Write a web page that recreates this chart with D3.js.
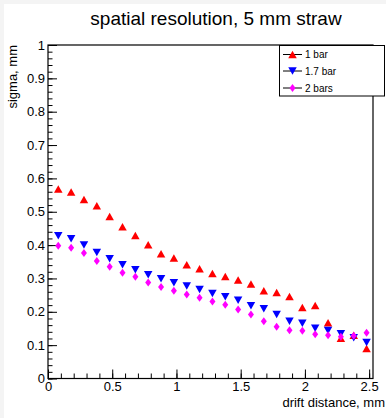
<!DOCTYPE html>
<html>
<head>
<meta charset="utf-8">
<script src="https://cdn.jsdelivr.net/npm/d3@7"></script>
<style>
  html, body { margin: 0; padding: 0; background: #fff; }
  svg { display: block; }
  text { font-family: "Liberation Sans", Arial, Helvetica, sans-serif; fill: #000; }
</style>
</head>
<body>
<svg id="chart" width="386" height="418"></svg>
<script>
// ---- data ----
const title = "spatial resolution, 5 mm straw";
const xLabel = "drift distance, mm";
const yLabel = "sigma, mm";
const driftX = [0.08, 0.18, 0.28, 0.38, 0.48, 0.58, 0.68, 0.78, 0.88, 0.98,
                1.08, 1.18, 1.28, 1.38, 1.48, 1.58, 1.68, 1.78, 1.88, 1.98,
                2.08, 2.18, 2.28, 2.38, 2.48];
const sigma1bar = [0.568, 0.559, 0.537, 0.518, 0.486, 0.455, 0.429, 0.401, 0.374, 0.361,
                   0.341, 0.329, 0.315, 0.306, 0.295, 0.283, 0.263, 0.258, 0.246, 0.213,
                   0.219, 0.167, 0.121, 0.130, 0.090];
const sigma17bar = [0.428, 0.419, 0.400, 0.378, 0.359, 0.341, 0.326, 0.311, 0.299, 0.287,
                    0.277, 0.267, 0.255, 0.245, 0.235, 0.218, 0.209, 0.192, 0.172, 0.166,
                    0.151, 0.144, 0.134, 0.122, 0.108];
const sigma2bars = [0.398, 0.392, 0.376, 0.352, 0.335, 0.317, 0.305, 0.288, 0.274, 0.263,
                    0.252, 0.242, 0.231, 0.221, 0.207, 0.192, 0.172, 0.155, 0.145, 0.143,
                    0.133, 0.130, 0.125, 0.128, 0.137];
const seriesNames = ["1 bar", "1.7 bar", "2 bars"];
const xTickValues = [0, 0.5, 1, 1.5, 2, 2.5];
const yTickValues = [0, 0.1, 0.2, 0.3, 0.4, 0.5, 0.6, 0.7, 0.8, 0.9, 1];

// ---- layout ----
const svg = d3.select("#chart");
const W = 386, H = 418;
const frame = { left: 48, right: 373, top: 45, bottom: 378.5 };

svg.append("rect").attr("width", W).attr("height", H).attr("fill", "#f4f4f4");
svg.append("rect").attr("x", 4).attr("y", 4).attr("width", W - 4).attr("height", H - 4).attr("fill", "#fff");

const x = d3.scaleLinear().domain([0, 2.53]).range([frame.left, frame.right]);
const y = d3.scaleLinear().domain([0, 1]).range([frame.bottom, frame.top]);

// title
svg.append("text").attr("x", 216).attr("y", 25).attr("text-anchor", "middle")
  .style("font-size", "19px").text(title);

// frame
svg.append("rect").attr("x", frame.left).attr("y", frame.top)
  .attr("width", frame.right - frame.left).attr("height", frame.bottom - frame.top)
  .attr("fill", "none").attr("stroke", "#000").attr("stroke-width", 1.2);

// x axis (ticks inside)
const xMinor = d3.range(0, 2.531, 0.1).map(v => +v.toFixed(2));
const gx = svg.append("g").attr("transform", `translate(0,${frame.bottom})`);
gx.call(d3.axisTop(x).tickValues(xMinor).tickSize(5).tickFormat(""))
  .call(g => g.select(".domain").remove())
  .call(g => g.selectAll("line").attr("stroke", "#000"));
const gx2 = svg.append("g").attr("transform", `translate(0,${frame.bottom})`);
gx2.call(d3.axisTop(x).tickValues(xTickValues).tickSize(9).tickFormat(""))
  .call(g => g.select(".domain").remove())
  .call(g => g.selectAll("line").attr("stroke", "#000"));
const gx3 = svg.append("g").attr("transform", `translate(0,${frame.bottom})`);
gx3.call(d3.axisBottom(x).tickValues(xTickValues).tickSize(0).tickPadding(3).tickFormat(d3.format("")))
  .call(g => g.select(".domain").remove())
  .call(g => g.selectAll("text").style("font-size", "13px").attr("fill", "#000").attr("dy", "0.72em"));

// y axis (ticks inside)
const yMinor = d3.range(0, 1.001, 0.02).map(v => +v.toFixed(2));
const gy = svg.append("g").attr("transform", `translate(${frame.left},0)`);
gy.call(d3.axisRight(y).tickValues(yMinor).tickSize(4.5).tickFormat(""))
  .call(g => g.select(".domain").remove())
  .call(g => g.selectAll("line").attr("stroke", "#000"));
const gy2 = svg.append("g").attr("transform", `translate(${frame.left},0)`);
gy2.call(d3.axisRight(y).tickValues(yTickValues).tickSize(9).tickFormat(""))
  .call(g => g.select(".domain").remove())
  .call(g => g.selectAll("line").attr("stroke", "#000"));
const gy3 = svg.append("g").attr("transform", `translate(${frame.left - 1},0)`);
gy3.call(d3.axisLeft(y).tickValues(yTickValues).tickSize(0).tickPadding(2).tickFormat(d3.format("")))
  .call(g => g.select(".domain").remove())
  .call(g => g.selectAll("text").style("font-size", "13px").attr("fill", "#000"));

// axis labels
svg.append("text").attr("x", 385).attr("y", 407).attr("text-anchor", "end")
  .style("font-size", "13px").text(xLabel);
svg.append("text").attr("transform", `translate(17,${frame.top}) rotate(-90)`)
  .attr("text-anchor", "end").style("font-size", "13px").text(yLabel);

// markers
function triUp(w, h) { return `M0,${-h/2}L${w/2},${h/2}L${-w/2},${h/2}Z`; }
function triDown(w, h) { return `M0,${h/2}L${w/2},${-h/2}L${-w/2},${-h/2}Z`; }
function diamond(w, h) { return `M0,${-h/2}L${w/2},0L0,${h/2}L${-w/2},0Z`; }

const series = [
  { name: seriesNames[0], values: sigma1bar, color: "#ff0000", path: triUp(8.5, 7.5) },
  { name: seriesNames[1], values: sigma17bar, color: "#0000ff", path: triDown(8.5, 7.5) },
  { name: seriesNames[2], values: sigma2bars, color: "#ff00ff", path: diamond(6, 8) }
];

const plot = svg.append("g");
series.forEach(s => {
  plot.append("g").selectAll("path").data(driftX.map((d, i) => [d, s.values[i]]))
    .join("path")
    .attr("transform", d => `translate(${x(d[0])},${y(d[1])})`)
    .attr("d", s.path)
    .attr("fill", s.color);
});

// legend
const lg = svg.append("g");
lg.append("rect").attr("x", 279.5).attr("y", 45.5).attr("width", 105).attr("height", 50.5)
  .attr("fill", "#fff").attr("stroke", "#000").attr("stroke-width", 1);
const legendY = [54.5, 71, 88];
series.forEach((s, i) => {
  const ly = legendY[i];
  lg.append("line").attr("x1", 283).attr("x2", 302).attr("y1", ly).attr("y2", ly)
    .attr("stroke", "#000").attr("stroke-width", 1);
  lg.append("path").attr("transform", `translate(292.5,${ly})`).attr("d", s.path).attr("fill", s.color);
  lg.append("text").attr("x", 305).attr("y", ly).attr("dy", "0.35em")
    .style("font-size", "10px").text(s.name);
});
</script>
</body>
</html>
